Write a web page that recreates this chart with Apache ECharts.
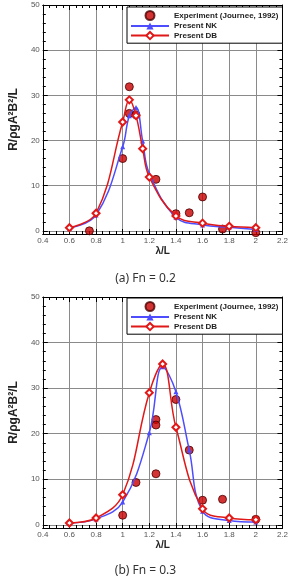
<!DOCTYPE html>
<html><head><meta charset="utf-8">
<script src="https://cdn.jsdelivr.net/npm/echarts@6/dist/echarts.min.js"></script>
<style>html,body{margin:0;padding:0;background:#fff}#c{width:291px;height:578px}</style>
</head><body><div id="c"></div>
<script>
// ---- data: (a) Fn = 0.2 ----
const expX_a = [0.75, 1.0, 1.05, 1.05, 1.1, 1.25, 1.4, 1.5, 1.6, 1.75, 2.0];
const expY_a = [0.0, 16.0, 31.9, 26.0, 25.7, 11.4, 3.8, 4.0, 7.5, 0.4, -0.4];
const nkX_a = [0.6, 0.8, 1.0, 1.05, 1.1, 1.15, 1.2, 1.4, 1.6, 1.8, 2.0];
const nkY_a = [0.6, 3.5, 18.6, 25.5, 27.3, 19.9, 12.7, 3.0, 1.3, 0.8, 0.3];
const dbX_a = [0.6, 0.8, 1.0, 1.05, 1.1, 1.15, 1.2, 1.4, 1.6, 1.8, 2.0];
const dbY_a = [0.7, 3.9, 24.1, 29.0, 25.5, 18.2, 11.9, 3.3, 1.7, 1.0, 0.7];
// ---- data: (b) Fn = 0.3 ----
const expX_b = [1.0, 1.1, 1.25, 1.25, 1.25, 1.4, 1.5, 1.6, 1.75, 2.0];
const expY_b = [2.1, 9.3, 23.1, 21.9, 11.2, 27.5, 16.4, 5.4, 5.6, 1.2];
const nkX_b = [0.6, 0.8, 1.0, 1.2, 1.3, 1.4, 1.5, 1.6, 1.8, 2.0];
const nkY_b = [0.4, 1.3, 5.0, 20.2, 34.7, 29.2, 16.4, 3.0, 0.95, 0.6];
const dbX_b = [0.6, 0.8, 1.0, 1.2, 1.3, 1.4, 1.6, 1.8, 2.0];
const dbY_b = [0.4, 1.5, 6.6, 29.0, 35.3, 21.4, 3.5, 1.5, 1.1];
const seriesNames = ['Experiment (Journee, 1992)', 'Present NK', 'Present DB'];
const titles = ['(a) Fn = 0.2', '(b) Fn = 0.3'];
const xName = 'λ/L';
const yName = 'R/ρgA²B²/L';

const zip = (xs, ys) => xs.map((x, i) => [x, ys[i]]);
const F = 'Liberation Sans, Arial, sans-serif';

function xAxes(gi) {
  const base = {
    type: 'value', gridIndex: gi, min: 0.4, max: 2.2, interval: 0.2,
    axisLine: {show: true, onZero: false, lineStyle: {color: '#000', width: 1}},
    axisTick: {show: true, inside: true, length: 5, lineStyle: {color: '#000'}},
    minorTick: {show: true, splitNumber: 4, length: 3, lineStyle: {color: '#000'}},
  };
  return [
    Object.assign({}, base, {position: 'bottom',
      splitLine: {show: true, lineStyle: {color: '#8a8a8a', width: 1}},
      axisLabel: {margin: 3, fontSize: 8, color: '#555', fontFamily: F},
      name: xName, nameLocation: 'middle', nameGap: 12,
      nameTextStyle: {fontSize: 10, fontWeight: 'bold', color: '#222', fontFamily: F}}),
    Object.assign({}, base, {position: 'top', splitLine: {show: false}, axisLabel: {show: false}})
  ];
}
function yAxes(gi) {
  const base = {
    type: 'value', gridIndex: gi, min: -0.7, max: 50, minInterval: 10, maxInterval: 10, splitNumber: 5,
    axisLine: {show: true, onZero: false, lineStyle: {color: '#000', width: 1}},
    axisTick: {show: true, inside: true, length: 5, lineStyle: {color: '#000'}},
    minorTick: {show: true, splitNumber: 5, length: 3, lineStyle: {color: '#000'}},
  };
  return [
    Object.assign({}, base, {position: 'left',
      splitLine: {show: true, lineStyle: {color: '#8a8a8a', width: 1}},
      axisLabel: {margin: 3, fontSize: 8, color: '#555', fontFamily: F,
        formatter: v => (Math.abs(v % 10) < 1e-6 ? String(v) : '')},
      name: yName, nameLocation: 'middle', nameGap: 20, nameRotate: 90,
      nameTextStyle: {fontSize: 12, fontWeight: 'bold', color: '#222', fontFamily: F}}),
    Object.assign({}, base, {position: 'right', splitLine: {show: false}, axisLabel: {show: false}})
  ];
}
function seriesFor(gi, ex, ey, nx, ny, dx, dy) {
  return [
    {type: 'scatter', name: seriesNames[0], xAxisIndex: gi * 2, yAxisIndex: gi * 2,
      data: zip(ex, ey), symbol: 'circle', symbolSize: 8, z: 2,
      itemStyle: {color: '#c80000', borderColor: '#4a0000', borderWidth: 1}},
    {type: 'line', name: seriesNames[1], xAxisIndex: gi * 2, yAxisIndex: gi * 2,
      data: zip(nx, ny), smooth: 0.4, symbol: 'triangle', symbolSize: 5, z: 3,
      lineStyle: {color: '#4d4dff', width: 1.5}, itemStyle: {color: '#4d4dff'}},
    {type: 'line', name: seriesNames[2], xAxisIndex: gi * 2, yAxisIndex: gi * 2,
      data: zip(dx, dy), smooth: 0.4, symbol: 'emptyDiamond', symbolSize: 7, z: 4,
      lineStyle: {color: '#e01818', width: 1.5}, itemStyle: {color: '#e01818', borderWidth: 0.8}}
  ];
}
function legendAt(top) {
  return {orient: 'vertical', left: 127, top: top,
    backgroundColor: '#fff', borderColor: '#000', borderWidth: 1, borderRadius: 0,
    padding: [3, 4, 3, 3], itemGap: 1, itemWidth: 38, itemHeight: 9,
    textStyle: {fontSize: 8, fontWeight: 'bold', color: '#222', fontFamily: F},
    data: seriesNames};
}
const chart = echarts.init(document.getElementById('c'), null, {renderer: 'canvas'});
chart.setOption({
  animation: false,
  backgroundColor: '#fff',
  title: [
    {text: titles[0], left: 'center', top: 273, padding: 0, textStyle: {fontSize: 12, fontWeight: 'normal', color: '#333', fontFamily: 'Noto Sans'}},
    {text: titles[1], left: 'center', top: 565, padding: 0, textStyle: {fontSize: 12, fontWeight: 'normal', color: '#333', fontFamily: 'Noto Sans'}}
  ],
  legend: [legendAt(7), legendAt(298)],
  grid: [
    {left: 32, right: 5, top: 5, bottom: 344, containLabel: false},
    {left: 32, right: 5, top: 297, bottom: 50, containLabel: false}
  ],
  xAxis: xAxes(0).concat(xAxes(1)),
  yAxis: yAxes(0).concat(yAxes(1)),
  series: seriesFor(0, expX_a, expY_a, nkX_a, nkY_a, dbX_a, dbY_a)
    .concat(seriesFor(1, expX_b, expY_b, nkX_b, nkY_b, dbX_b, dbY_b))
});
</script></body></html>
